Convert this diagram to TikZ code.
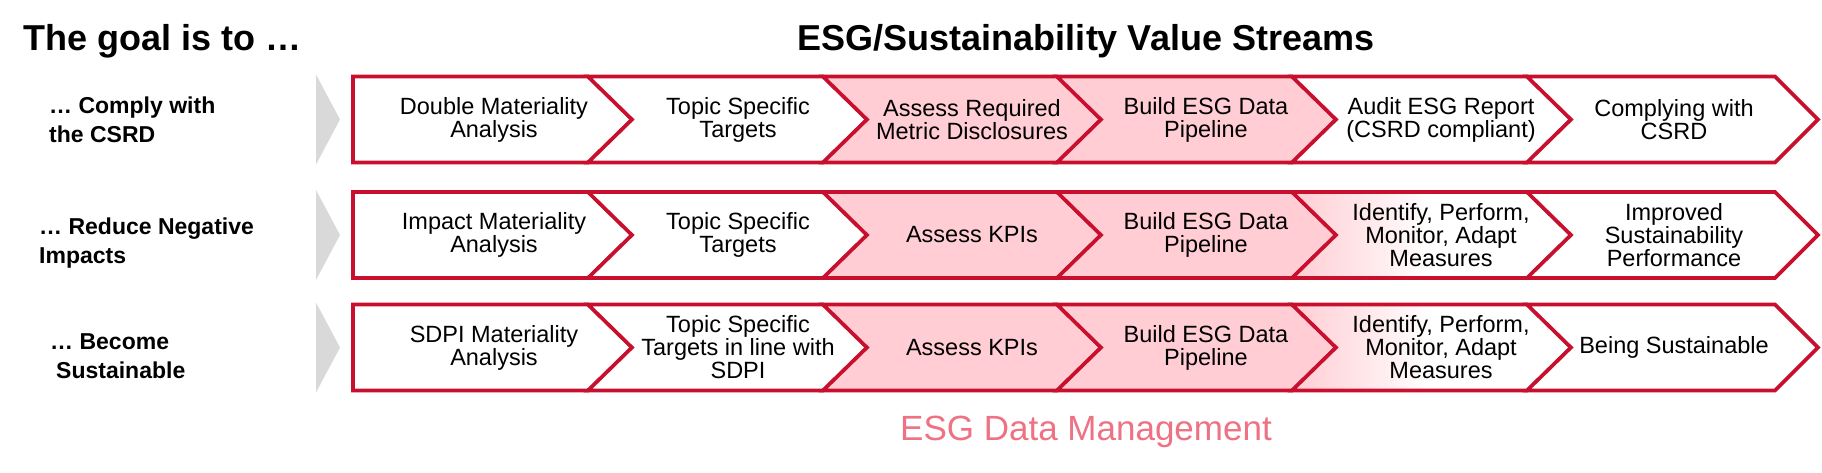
\documentclass[tikz,border=0pt]{standalone}
\usepackage{fontspec}
\setmainfont{Liberation Sans}
\definecolor{esgred}{RGB}{200,16,46}
\definecolor{esgpink}{RGB}{255,205,211}
\definecolor{esgrose}{RGB}{238,114,132}
\definecolor{arrowgray}{RGB}{217,217,217}
\tikzset{
  chevline/.style={draw=esgred, line width=3.6pt, line join=miter},
  whitefill/.style={fill=white},
  pinkfill/.style={fill=esgpink},
  fadefill/.style={left color=esgpink, right color=white, middle color=white},
  steptext/.style={align=center, font=\fontsize{23.5}{23}\selectfont, inner sep=0pt},
  goaltext/.style={align=left, anchor=west, font=\bfseries\fontsize{23}{28.5}\selectfont, inner sep=0pt},
  headtext/.style={font=\bfseries\fontsize{36}{40}\selectfont, inner sep=0pt},
  goalarrow/.style={fill=arrowgray},
}
\begin{document}
\begin{tikzpicture}[x=1pt,y=-1pt]
\useasboundingbox (0,0) rectangle (1822,472);
\fill[white] (0,0) rectangle (1822,472);

\foreach \yc/\fa/\fb/\fc/\fd/\fe/\ff in {
  119.5/whitefill/whitefill/pinkfill/pinkfill/whitefill/whitefill,
  235/whitefill/whitefill/pinkfill/pinkfill/fadefill/whitefill,
  347.5/whitefill/whitefill/pinkfill/pinkfill/fadefill/whitefill}{
  \fill[goalarrow] (316,\yc-45) -- (340,\yc) -- (316,\yc+45) -- cycle;
  \path[\fa,chevline] (353,\yc-43) -- (588,\yc-43) -- (632,\yc) -- (588,\yc+43) -- (353,\yc+43) -- cycle;
  \path[\fb,chevline] (588,\yc-43) -- (823,\yc-43) -- (867,\yc) -- (823,\yc+43) -- (588,\yc+43) -- (632,\yc) -- cycle;
  \path[\fc,chevline] (823,\yc-43) -- (1057,\yc-43) -- (1101,\yc) -- (1057,\yc+43) -- (823,\yc+43) -- (867,\yc) -- cycle;
  \path[\fd,chevline] (1057,\yc-43) -- (1292,\yc-43) -- (1336,\yc) -- (1292,\yc+43) -- (1057,\yc+43) -- (1101,\yc) -- cycle;
  \path[\fe,chevline] (1292,\yc-43) -- (1527,\yc-43) -- (1571,\yc) -- (1527,\yc+43) -- (1292,\yc+43) -- (1336,\yc) -- cycle;
  \path[\ff,chevline] (1527,\yc-43) -- (1775,\yc-43) -- (1818,\yc) -- (1775,\yc+43) -- (1527,\yc+43) -- (1571,\yc) -- cycle;
}

% titles
\node[headtext, anchor=base west] (goaltitle) at (23,50) {The goal is to …};
\node[headtext, anchor=base] (streamtitle) at (1086,50) {ESG/Sustainability Value Streams};

% goal labels
\node[goaltext] (goal1) at (49,120) {… Comply with\\the CSRD};
\node[goaltext] (goal2) at (39,243) {… Reduce Negative\\Impacts};
\node[goaltext] (goal3) at (50,356) {… Become\\\hspace{6pt}Sustainable};

% row 1
\node[steptext] (r1c1) at (494,119.5) {Double Materiality\\Analysis};
\node[steptext] (r1c2) at (738,119.5) {Topic Specific\\Targets};
\node[steptext] (r1c3) at (972,119.5) {Assess Required\\Metric Disclosures};
\node[steptext] (r1c4) at (1206,119.5) {Build ESG Data\\Pipeline};
\node[steptext] (r1c5) at (1441,119.5) {Audit ESG Report\\(CSRD compliant)};
\node[steptext] (r1c6) at (1674,119.5) {Complying with\\CSRD};

% row 2
\node[steptext] (r2c1) at (494,235) {Impact Materiality\\Analysis};
\node[steptext] (r2c2) at (738,235) {Topic Specific\\Targets};
\node[steptext] (r2c3) at (972,235) {Assess KPIs};
\node[steptext] (r2c4) at (1206,235) {Build ESG Data\\Pipeline};
\node[steptext] (r2c5) at (1441,235) {Identify, Perform,\\Monitor, Adapt\\Measures};
\node[steptext] (r2c6) at (1674,235) {Improved\\Sustainability\\Performance};

% row 3
\node[steptext] (r3c1) at (494,347.5) {SDPI Materiality\\Analysis};
\node[steptext] (r3c2) at (738,347.5) {Topic Specific\\Targets in line with\\SDPI};
\node[steptext] (r3c3) at (972,347.5) {Assess KPIs};
\node[steptext] (r3c4) at (1206,347.5) {Build ESG Data\\Pipeline};
\node[steptext] (r3c5) at (1441,347.5) {Identify, Perform,\\Monitor, Adapt\\Measures};
\node[steptext] (r3c6) at (1674,347.5) {Being Sustainable};

% bottom label
\node[anchor=base, inner sep=0pt, text=esgrose, font=\fontsize{35}{40}\selectfont] (datamgmt) at (1086,440) {ESG Data Management};
\end{tikzpicture}
\end{document}
